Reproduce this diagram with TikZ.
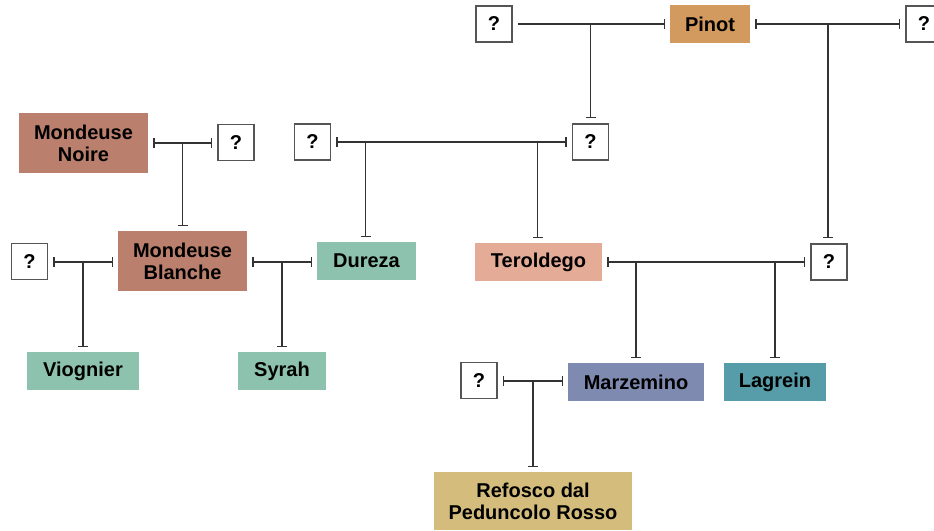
\documentclass[tikz,border=0pt]{standalone}
\usepackage{fontspec}
\setmainfont{Liberation Sans}
\usetikzlibrary{arrows.meta}
\definecolor{cPinot}{HTML}{D29A5E}
\definecolor{cMond}{HTML}{BA7F6D}
\definecolor{cGreen}{HTML}{8DC3AE}
\definecolor{cTerol}{HTML}{E4AB97}
\definecolor{cMarz}{HTML}{7F8AB0}
\definecolor{cLag}{HTML}{579DA9}
\definecolor{cRef}{HTML}{D4BC7C}
\definecolor{cLine}{HTML}{333333}
\definecolor{cBox}{HTML}{555555}
\tikzset{
  cult/.style={rectangle, inner sep=0pt, align=center,
    font=\fontsize{20}{22}\selectfont\bfseries},
  unk/.style={rectangle, inner sep=0pt, draw=cBox, line width=1.5pt, fill=white,
    minimum width=36pt, minimum height=36pt,
    font=\fontsize{20}{22}\selectfont\bfseries},
  couple/.style={draw=cLine, line width=1.3pt, shorten <=5pt, shorten >=5pt,
    {Bar[width=10pt,line width=1.3pt]}-{Bar[width=10pt,line width=1.3pt]}},
  coupleR/.style={draw=cLine, line width=1.3pt, shorten <=5pt, shorten >=5pt,
    -{Bar[width=10pt,line width=1.3pt]}},
  child/.style={draw=cLine, line width=1.3pt, shorten >=5pt,
    -{Bar[width=10pt,line width=1.3pt]}},
}
\begin{document}
\begin{tikzpicture}[x=1pt,y=-1pt]
\useasboundingbox (0,0) rectangle (934,530);
\fill[white] (0,0) rectangle (934,530);
% nodes
\node[unk] (q1) at (494,24) {?};
\node[cult, fill=cPinot, minimum width=80pt, minimum height=38pt] (pinot) at (710,24) {Pinot};
\node[unk] (q2) at (924,24) {?};
\node[unk] (q3) at (590.5,142) {?};
\node[unk] (q4) at (312.5,142) {?};
\node[cult, fill=cMond, minimum width=129pt, minimum height=60pt] (mn) at (83.5,143) {Mondeuse\\Noire};
\node[unk] (q5) at (236,142.5) {?};
\node[cult, fill=cMond, minimum width=129pt, minimum height=60pt] (mb) at (182.5,261) {Mondeuse\\Blanche};
\node[unk] (q6) at (29.5,261.5) {?};
\node[cult, fill=cGreen, minimum width=99pt, minimum height=38pt] (dur) at (366.5,261) {Dureza};
\node[cult, fill=cTerol, minimum width=127pt, minimum height=38pt] (ter) at (538.5,262) {Teroldego};
\node[unk] (q7) at (829,262) {?};
\node[cult, fill=cGreen, minimum width=112pt, minimum height=38pt] (vio) at (83,371) {Viognier};
\node[cult, fill=cGreen, minimum width=88pt, minimum height=38pt] (syr) at (282,371) {Syrah};
\node[unk] (q8) at (479,380.5) {?};
\node[cult, fill=cMarz, minimum width=136pt, minimum height=38pt] (mar) at (636,382) {Marzemino};
\node[cult, fill=cLag, minimum width=102pt, minimum height=38pt] (lag) at (775,382) {Lagrein};
\node[cult, fill=cRef, minimum width=198pt, minimum height=58pt] (ref) at (533,501) {Refosco dal\\Peduncolo Rosso};
% junctions
\coordinate (j1) at (590.5,24);
\coordinate (j2) at (828,24);
\coordinate (j3) at (365.5,142);
\coordinate (j4) at (537.5,142);
\coordinate (j5) at (182.5,143);
\coordinate (j6) at (83,262);
\coordinate (j7) at (282,262);
\coordinate (j8) at (636,262);
\coordinate (j9) at (775,262);
\coordinate (j10) at (533,381);
% couples
\draw[coupleR] (q1.east) -- (pinot.west);
\draw[couple] (pinot.east) -- (q2.west);
\draw[couple] (q4.east) -- (q3.west);
\draw[couple] (mn.east |- j5) -- (q5.west |- j5);
\draw[couple] (q6.east |- j6) -- (mb.west |- j6);
\draw[couple] (mb.east |- j7) -- (dur.west |- j7);
\draw[couple] (ter.east) -- (q7.west);
\draw[couple] (q8.east |- j10) -- (mar.west |- j10);
% children
\draw[child] (j1) -- (j1 |- q3.north);
\draw[child] (j2) -- (j2 |- q7.north);
\draw[child] (j3) -- (j3 |- dur.north);
\draw[child] (j4) -- (j4 |- ter.north);
\draw[child] (j5) -- (j5 |- mb.north);
\draw[child] (j6) -- (j6 |- vio.north);
\draw[child] (j7) -- (j7 |- syr.north);
\draw[child] (j8) -- (j8 |- mar.north);
\draw[child] (j9) -- (j9 |- lag.north);
\draw[child] (j10) -- (j10 |- ref.north);
\end{tikzpicture}
\end{document}
